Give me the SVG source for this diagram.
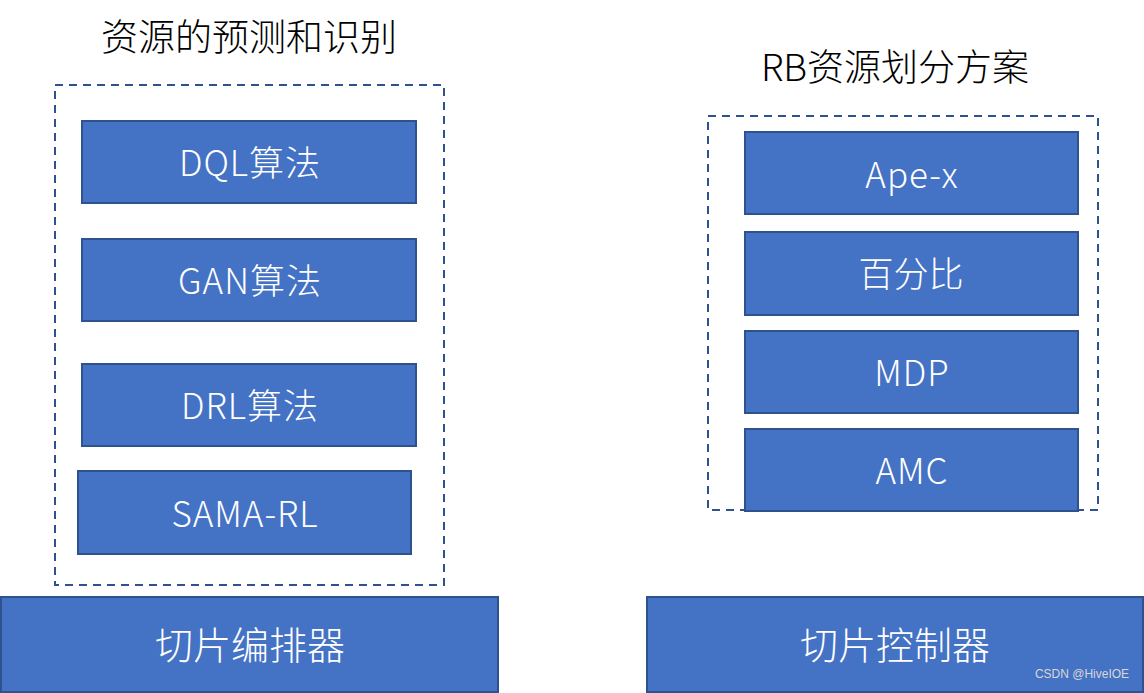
<svg xmlns="http://www.w3.org/2000/svg" width="1144" height="693" viewBox="0 0 1144 693">
<style>
.box{fill:#4472C4;stroke:#2F528F;stroke-width:2}
.dash{fill:none;stroke:#2F528F;stroke-width:2;stroke-dasharray:8 6}
.lbl{fill:#fff;font-family:"Noto Sans CJK SC","Noto Sans",sans-serif;font-size:35px;font-weight:300;text-anchor:middle;dominant-baseline:central}
.lat{letter-spacing:1px}
.big{font-size:38px}
.title{fill:#000;font-family:"Noto Sans CJK SC","Noto Sans",sans-serif;font-size:37px;font-weight:300;text-anchor:middle;dominant-baseline:central}
</style>
<rect width="1144" height="693" fill="#fff"/>
<text class="title" x="249" y="35">资源的预测和识别</text>
<text class="title" x="895" y="65">RB资源划分方案</text>
<rect class="dash" x="55" y="85" width="389" height="500"/>
<rect class="dash" x="708" y="116" width="390" height="394"/>
<g id="dql"><rect class="box" x="82" y="121" width="334" height="82"/><text class="lbl lat" x="250" y="160">DQL算法</text></g>
<g id="gan"><rect class="box" x="82" y="239" width="334" height="82"/><text class="lbl lat" x="250" y="278">GAN算法</text></g>
<g id="drl"><rect class="box" x="82" y="364" width="334" height="82"/><text class="lbl lat" x="250" y="403">DRL算法</text></g>
<g id="sama"><rect class="box" x="78" y="471" width="333" height="83"/><text class="lbl lat" x="245" y="511">SAMA-RL</text></g>
<g id="apex"><rect class="box" x="745" y="132" width="333" height="82"/><text class="lbl lat" x="912" y="172">Ape-x</text></g>
<g id="pct"><rect class="box" x="745" y="232" width="333" height="83"/><text class="lbl" x="911" y="271">百分比</text></g>
<g id="mdp"><rect class="box" x="745" y="331" width="333" height="82"/><text class="lbl lat" x="912" y="370">MDP</text></g>
<g id="amc"><rect class="box" x="745" y="429" width="333" height="82"/><text class="lbl lat" x="912" y="468">AMC</text></g>
<g id="orch"><rect class="box" x="1" y="597" width="497" height="95"/><text class="lbl big" x="250" y="642">切片编排器</text></g>
<g id="ctrl"><rect class="box" x="647" y="597" width="496" height="95"/><text class="lbl big" x="895" y="642">切片控制器</text></g>
<g id="connectors"></g>
<text x="1082" y="678" font-family="Liberation Sans, sans-serif" font-size="12" fill="#d8d8d8" text-anchor="middle">CSDN @HiveIOE</text>
</svg>
